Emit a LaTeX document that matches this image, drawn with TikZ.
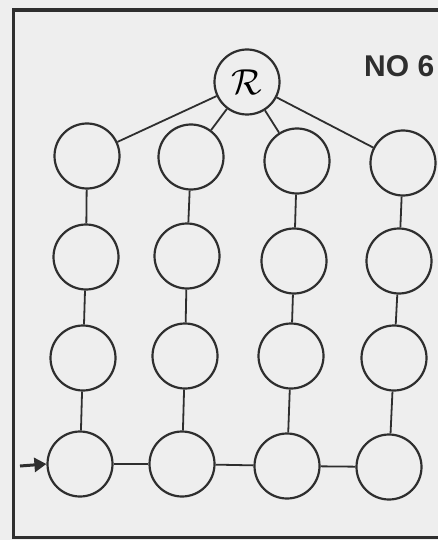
\documentclass[tikz,border=0pt]{standalone}
\usepackage{fontspec}
\newfontfamily\labelfont{Liberation Sans}
\usetikzlibrary{arrows.meta}
\definecolor{ink}{HTML}{2E2E2E}
\definecolor{paper}{HTML}{EEEEEE}
\tikzset{
  cell/.style={circle, draw=ink, line width=2.2pt, minimum size=65pt, inner sep=0pt},
  link/.style={draw=ink, line width=1.8pt},
}
\begin{document}
\begin{tikzpicture}[x=1pt,y=-1pt]
\useasboundingbox (0,0) rectangle (438,540);
\fill[paper] (0,0) rectangle (438,540);
\begin{scope}
\clip (0,0) rectangle (438,540);
\draw[ink, line width=3.5pt] (460,10) -- (13.5,10) -- (13.5,537.5) -- (460,537.5);
\end{scope}
% root
\node[cell] (R) at (247,82) {\scalebox{1.45}{\fontsize{30}{30}\selectfont$\mathcal{R}$}};
% rows
\node[cell] (a1) at (87,156) {};
\node[cell] (b1) at (191,157) {};
\node[cell] (c1) at (297,161) {};
\node[cell] (d1) at (403,163) {};
\node[cell] (a2) at (86,257) {};
\node[cell] (b2) at (187,256) {};
\node[cell] (c2) at (294,261) {};
\node[cell] (d2) at (399,261) {};
\node[cell] (a3) at (83,358) {};
\node[cell] (b3) at (185,356) {};
\node[cell] (c3) at (291,356) {};
\node[cell] (d3) at (394,358) {};
\node[cell] (a4) at (80,464) {};
\node[cell] (b4) at (182,464) {};
\node[cell] (c4) at (287,466) {};
\node[cell] (d4) at (389,467) {};
% label
\node[anchor=west, inner sep=0pt, text=ink] (lbl) at (364,66) {\labelfont\bfseries\fontsize{30}{30}\selectfont NO 6};
% connectors
\foreach \c in {a1,b1,c1,d1} \draw[link] (R) -- (\c);
\foreach \c in {a,b,c,d} {
  \draw[link] (\c1) -- (\c2);
  \draw[link] (\c2) -- (\c3);
  \draw[link] (\c3) -- (\c4);
}
\draw[link] (a4) -- (b4);
\draw[link] (b4) -- (c4);
\draw[link] (c4) -- (d4);
\coordinate (in) at (20,466);
\draw[link, line width=3pt, -{Triangle[length=12pt,width=14pt]}] (in) -- (a4.west);
\end{tikzpicture}
\end{document}
